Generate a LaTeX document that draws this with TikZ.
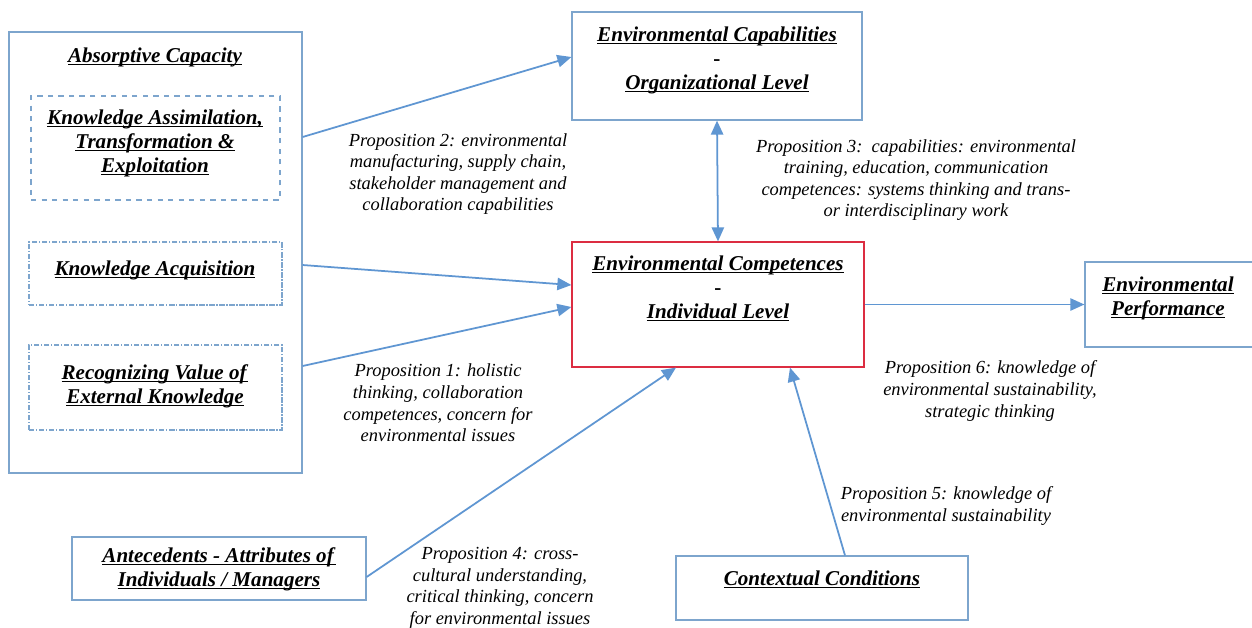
\documentclass[tikz,border=0pt]{standalone}
\usepackage{fontspec}
\setmainfont{Liberation Serif}
\usetikzlibrary{arrows.meta}
\definecolor{boxblue}{RGB}{125,165,205}
\definecolor{arrblue}{RGB}{95,150,210}
\definecolor{compred}{RGB}{220,45,65}
\newcommand{\ttl}[1]{\underline{\smash{\textbf{\textit{#1}}}}}

\begin{document}
\begin{tikzpicture}[x=0.02cm,y=-0.02cm,
    box/.style={draw=boxblue,line width=0.7pt,inner sep=0pt},
    title/.style={align=center,font=\fontsize{12}{13.6}\selectfont},
    prop/.style={align=center,font=\fontsize{10.5}{12.3}\selectfont\itshape},
    arr/.style={draw=arrblue,line width=1pt,-{Triangle[length=8pt,width=7pt]}}]
  \useasboundingbox[fill=white] (0,0) rectangle (1252,627);
  % boxes
  \node[box,minimum width=5.86cm,minimum height=8.82cm] (absorb) at (155.5,252.5) {};
  \node[box,dashed,minimum width=4.98cm,minimum height=2.08cm] (kate) at (155.5,148) {};
  \node[box,densely dash dot,line width=1.3pt,minimum width=5.06cm,minimum height=1.26cm] (kacq) at (155.5,273.5) {};
  \node[box,densely dash dot,line width=1.3pt,minimum width=5.06cm,minimum height=1.70cm] (rvek) at (155.5,387.5) {};
  \node[box,minimum width=5.8cm,minimum height=2.16cm] (envcap) at (717,66) {};
  \node[box,draw=compred,minimum width=5.84cm,minimum height=2.5cm] (envcomp) at (718,304.5) {};
  \node[box,minimum width=3.42cm,minimum height=1.7cm] (envperf) at (1170.5,304.5) {};
  \node[box,minimum width=5.84cm,minimum height=1.28cm] (context) at (822,588) {};
  \node[box,minimum width=5.88cm,minimum height=1.26cm] (antec) at (219,568.5) {};
  % box texts
  \node[title] (absorb-t) at (155,64) {\ttl{Absorptive Capacity}};
  \node[title] (kate-t) at (155,150) {\ttl{Knowledge Assimilation,}\\\ttl{Transformation \&}\\\ttl{Exploitation}};
  \node[title] (kacq-t) at (155,277) {\ttl{Knowledge Acquisition}};
  \node[title] (rvek-t) at (155,393) {\ttl{Recognizing Value of}\\\ttl{External Knowledge}};
  \node[title] (envcap-t) at (717,67) {\ttl{Environmental Capabilities}\\\textbf{-}\\\ttl{Organizational Level}};
  \node[title] (envcomp-t) at (718,296) {\ttl{Environmental Competences}\\\textbf{-}\\\ttl{Individual Level}};
  \node[title] (envperf-t) at (1168,305) {\ttl{Environmental}\\\ttl{Performance}};
  \node[title] (context-t) at (822,587) {\ttl{Contextual Conditions}};
  \node[title] (antec-t) at (219,576) {\ttl{Antecedents - Attributes of}\\\ttl{Individuals / Managers}};
  % propositions
  \node[prop] (p2) at (458,174) {Proposition 2: environmental\\manufacturing, supply chain,\\stakeholder management and\\collaboration capabilities};
  \node[prop] (p3) at (916,180) {Proposition 3:\ \ capabilities: environmental\\training, education, communication\\competences: systems thinking and trans-\\or interdisciplinary work};
  \node[prop] (p1) at (438,403) {Proposition 1: holistic\\thinking, collaboration\\competences, concern for\\environmental issues};
  \node[prop] (p6) at (990,391) {Proposition 6: knowledge of\\environmental sustainability,\\strategic thinking};
  \node[prop] (p5) at (946,506) {Proposition 5: knowledge of\\environmental sustainability};
  \node[prop] (p4) at (500,588) {Proposition 4: cross-\\cultural understanding,\\critical thinking, concern\\for environmental issues};
  % connectors
  \coordinate (a2) at (absorb.east |- 0,137);
  \coordinate (a1) at (absorb.east |- 0,265);
  \coordinate (a3) at (absorb.east |- 0,366);
  \draw[arr] (a2) -- (envcap.west |- 0,57);
  \draw[arr] (a1) -- (envcomp.west |- 0,285);
  \draw[arr] (a3) -- (envcomp.west |- 0,307);
  \draw[arr,{Triangle[length=8pt,width=7pt]}-{Triangle[length=8pt,width=7pt]}] (envcap.south) -- (envcomp.north);
  \draw[arr] (antec.east |- 0,577) -- (envcomp.south -| 676,0);
  \draw[arr] (context.north -| 845,0) -- (envcomp.south -| 790,0);
  \draw[arr] (envcomp.east) -- (envperf.west);
\end{tikzpicture}
\end{document}
